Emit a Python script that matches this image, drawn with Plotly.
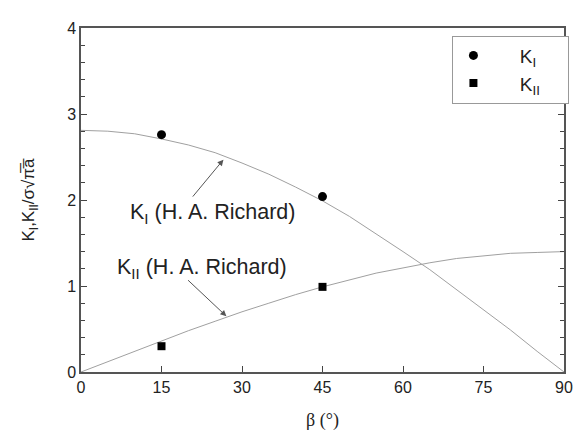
import plotly.graph_objects as go

# curve values
beta_curve = [0, 5, 10, 15, 20, 25, 30, 35, 40, 45, 50, 55, 60, 65, 70, 75, 80, 85, 90]
ki_curve = [2.81, 2.80, 2.77, 2.71, 2.64, 2.55, 2.43, 2.30, 2.15, 1.99, 1.81, 1.61, 1.40, 1.19, 0.96, 0.73, 0.49, 0.24, 0.0]
kii_curve = [0.0, 0.12, 0.24, 0.36, 0.48, 0.59, 0.70, 0.80, 0.90, 0.99, 1.07, 1.15, 1.21, 1.27, 1.32, 1.35, 1.38, 1.39, 1.40]

# measured points
beta_pts = [15, 45]
ki_pts = [2.76, 2.04]
kii_pts = [0.30, 0.99]

x_ticks = [0, 15, 30, 45, 60, 75, 90]
y_ticks = [0, 1, 2, 3, 4]

font = "Liberation Sans, Arial, sans-serif"
fig = go.Figure()
fig.add_trace(go.Scatter(x=beta_curve, y=ki_curve, mode="lines",
                         line=dict(color="#a0a0a0", width=1), showlegend=False))
fig.add_trace(go.Scatter(x=beta_curve, y=kii_curve, mode="lines",
                         line=dict(color="#a0a0a0", width=1), showlegend=False))
fig.add_trace(go.Scatter(x=beta_pts, y=ki_pts, mode="markers",
                         name="&nbsp;&nbsp;&nbsp;&nbsp;&nbsp;K<sub>I</sub>&nbsp;&nbsp;&nbsp;&nbsp;&nbsp;",
                         marker=dict(symbol="circle", size=9, color="black")))
fig.add_trace(go.Scatter(x=beta_pts, y=kii_pts, mode="markers",
                         name="&nbsp;&nbsp;&nbsp;&nbsp;&nbsp;K<sub>II</sub>",
                         marker=dict(symbol="square", size=8, color="black")))

# pixel helpers (plot area: x 81..566, y 20..378 in the page)
def px_x(p):
    return (p - 81) / 5.389

def px_y(p):
    return (378 - p) / 89.5

fig.add_annotation(x=px_x(224), y=px_y(157), ax=px_x(192), ay=px_y(197), axref="x", ayref="y",
                   text="", showarrow=True, arrowhead=2, arrowsize=1.2, arrowwidth=1,
                   arrowcolor="#555")
fig.add_annotation(x=px_x(227), y=px_y(320), ax=px_x(187), ay=px_y(281), axref="x", ayref="y",
                   text="", showarrow=True, arrowhead=2, arrowsize=1.2, arrowwidth=1,
                   arrowcolor="#555")
fig.add_annotation(x=px_x(213), y=px_y(213), text="K<sub>I</sub> (H. A. Richard)",
                   showarrow=False, font=dict(family=font, size=21.5, color="#222"))
fig.add_annotation(x=px_x(203), y=px_y(270), text="K<sub>II</sub> (H. A. Richard)",
                   showarrow=False, font=dict(family=font, size=21.5, color="#222"))

# page body has an 8px margin, so the figure is offset by 8px
fig.update_layout(
    width=577, height=431,
    margin=dict(l=73, r=19, t=12, b=61),
    paper_bgcolor="white", plot_bgcolor="white",
    font=dict(family=font, size=16, color="#222"),
    legend=dict(x=0.769, y=0.978, xanchor="left", yanchor="top",
                bordercolor="#999", borderwidth=1, bgcolor="white",
                font=dict(size=19), itemwidth=30, tracegroupgap=6),
    xaxis=dict(range=[0, 90], tickvals=x_ticks, ticks="inside", ticklen=6,
               tickcolor="#444", showline=True, linecolor="#555", linewidth=1.5,
               mirror=True, showgrid=False, zeroline=False,
               title=dict(text="β (°)", font=dict(family="Liberation Serif, Times New Roman, serif", size=18), standoff=18)),
    yaxis=dict(range=[0, 4], tickvals=y_ticks, ticks="inside", ticklen=6,
               tickcolor="#444", showline=True, linecolor="#555", linewidth=1.5,
               mirror="ticks", showgrid=False, zeroline=False,
               minor=dict(dtick=0.2, ticks="inside", ticklen=4, tickcolor="#444"),
               title=dict(text="K<sub>I</sub>,K<sub>II</sub>/σ√π\u0305a\u0305", font=dict(size=17), standoff=28)),
)
fig.write_html("out.html")
